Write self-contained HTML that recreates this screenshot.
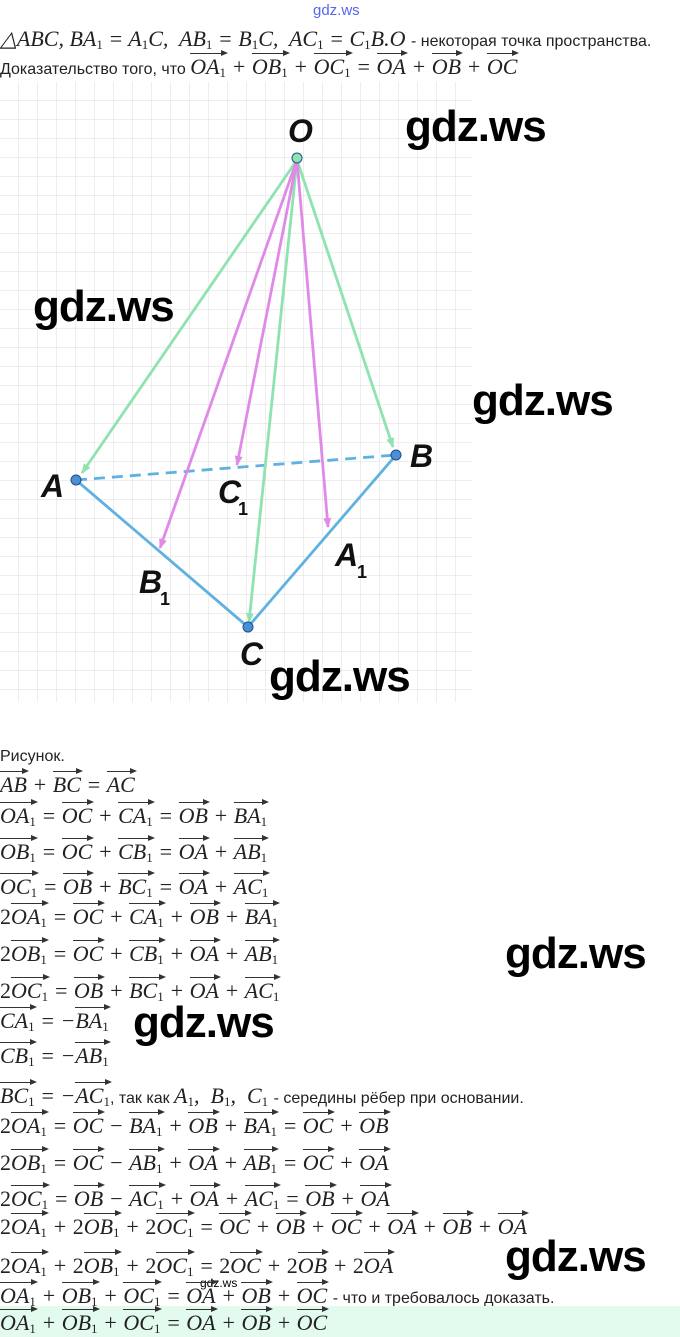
<!DOCTYPE html>
<html><head><meta charset="utf-8">
<style>
body{margin:0;width:680px;height:1337px;background:#fff;position:relative;overflow:hidden;font-family:"Liberation Sans",sans-serif;color:#222}
.l{position:absolute;left:0;white-space:nowrap;font-family:"Liberation Serif",serif;font-style:italic;font-size:22px;color:#222}
.t{font-family:"Liberation Sans",sans-serif;font-style:normal;font-size:16px}
.n{font-style:normal}
.v{display:inline-block;position:relative;line-height:1;padding-top:3px}
.v::before{content:"";position:absolute;left:0;right:1px;top:0;border-top:1.3px solid #333}
.v::after{content:"";position:absolute;right:-2px;top:-3px;border-top:3.5px solid transparent;border-bottom:3.5px solid transparent;border-left:7px solid #333}
sub{font-size:13px;font-style:normal;vertical-align:-3px}
.w{position:absolute;font-family:"Liberation Sans",sans-serif;font-weight:bold;font-size:44px;color:#000;letter-spacing:-1px}
</style></head><body>
<div style="position:absolute;left:313px;top:2px;font-size:15px;color:#5566ee">gdz.ws</div>
<div class="l" style="top:26px">△ABC, BA<sub>1</sub> = A<sub>1</sub>C,&nbsp; AB<sub>1</sub> = B<sub>1</sub>C,&nbsp; AC<sub>1</sub> = C<sub>1</sub>B.O <span class="t">- некоторая точка пространства.</span></div>
<div class="l" style="top:53px"><span class="t">Доказательство того, что </span><span class="v">OA<sub>1</sub></span> + <span class="v">OB<sub>1</sub></span> + <span class="v">OC<sub>1</sub></span> = <span class="v">OA</span> + <span class="v">OB</span> + <span class="v">OC</span></div>

<svg style="position:absolute;left:0;top:82px" width="475" height="620">
<defs>
<pattern id="g" width="19" height="19" patternUnits="userSpaceOnUse"><path d="M19 0V19H0" fill="none" stroke="#dcdcdc" stroke-width="1"/></pattern>
</defs>
<rect width="472" height="620" fill="url(#g)"/>
</svg>
<svg style="position:absolute;left:0;top:0" width="680" height="720">
<defs>
<marker id="mg" markerWidth="10" markerHeight="10" refX="9" refY="5" orient="auto" markerUnits="userSpaceOnUse"><path d="M0 1L10 5L0 9z" fill="#8ee3b0"/></marker>
<marker id="mp" markerWidth="10" markerHeight="10" refX="9" refY="5" orient="auto" markerUnits="userSpaceOnUse"><path d="M0 1L10 5L0 9z" fill="#e08ae8"/></marker>
</defs>
<g stroke-width="2.8" fill="none">
<line x1="76" y1="480" x2="396" y2="455" stroke="#5fb2e0" stroke-dasharray="11,7"/>
<line x1="76" y1="480" x2="248" y2="627" stroke="#5fb2e0"/>
<line x1="396" y1="455" x2="248" y2="627" stroke="#5fb2e0"/>
<line x1="297" y1="160" x2="82" y2="473" stroke="#8ee3b0" marker-end="url(#mg)"/>
<line x1="297" y1="160" x2="393" y2="447" stroke="#8ee3b0" marker-end="url(#mg)"/>
<line x1="297" y1="160" x2="249" y2="622" stroke="#8ee3b0" marker-end="url(#mg)"/>
<line x1="297" y1="160" x2="160" y2="548" stroke="#e08ae8" marker-end="url(#mp)"/>
<line x1="297" y1="160" x2="237" y2="465" stroke="#e08ae8" marker-end="url(#mp)"/>
<line x1="297" y1="160" x2="328" y2="527" stroke="#e08ae8" marker-end="url(#mp)"/>
</g>
<g stroke="#1f4f8a" stroke-width="1">
<circle cx="297" cy="158" r="5" fill="#8ee3b0"/>
<circle cx="76" cy="480" r="5" fill="#4a90d9"/>
<circle cx="396" cy="455" r="5" fill="#4a90d9"/>
<circle cx="248" cy="627" r="5" fill="#4a90d9"/>
</g>
<g font-family="Liberation Sans Narrow, Liberation Sans, sans-serif" font-style="italic" font-weight="bold" font-size="32" fill="#111">
<text x="288" y="142">O</text>
<text x="41" y="497">A</text>
<text x="410" y="467">B</text>
<text x="218" y="503">C</text><text x="238" y="515" font-size="18" font-style="normal">1</text>
<text x="139" y="593">B</text><text x="160" y="605" font-size="18" font-style="normal">1</text>
<text x="335" y="566">A</text><text x="357" y="578" font-size="18" font-style="normal">1</text>
<text x="240" y="665">C</text>
</g>
</svg>

<div class="w" style="left:405px;top:102px">gdz.ws</div>
<div class="w" style="left:33px;top:282px">gdz.ws</div>
<div class="w" style="left:472px;top:376px">gdz.ws</div>
<div class="w" style="left:269px;top:652px">gdz.ws</div>
<div class="w" style="left:505px;top:929px">gdz.ws</div>
<div class="w" style="left:133px;top:998px">gdz.ws</div>
<div class="w" style="left:505px;top:1232px">gdz.ws</div>

<div class="l t" style="top:748px">Рисунок.</div>
<div class="l" style="top:771px"><span class="v">AB</span> + <span class="v">BC</span> = <span class="v">AC</span></div>
<div class="l" style="top:802px"><span class="v">OA<sub>1</sub></span> = <span class="v">OC</span> + <span class="v">CA<sub>1</sub></span> = <span class="v">OB</span> + <span class="v">BA<sub>1</sub></span></div>
<div class="l" style="top:838px"><span class="v">OB<sub>1</sub></span> = <span class="v">OC</span> + <span class="v">CB<sub>1</sub></span> = <span class="v">OA</span> + <span class="v">AB<sub>1</sub></span></div>
<div class="l" style="top:873px"><span class="v">OC<sub>1</sub></span> = <span class="v">OB</span> + <span class="v">BC<sub>1</sub></span> = <span class="v">OA</span> + <span class="v">AC<sub>1</sub></span></div>
<div class="l" style="top:903px"><span class="n">2</span><span class="v">OA<sub>1</sub></span> = <span class="v">OC</span> + <span class="v">CA<sub>1</sub></span> + <span class="v">OB</span> + <span class="v">BA<sub>1</sub></span></div>
<div class="l" style="top:940px"><span class="n">2</span><span class="v">OB<sub>1</sub></span> = <span class="v">OC</span> + <span class="v">CB<sub>1</sub></span> + <span class="v">OA</span> + <span class="v">AB<sub>1</sub></span></div>
<div class="l" style="top:977px"><span class="n">2</span><span class="v">OC<sub>1</sub></span> = <span class="v">OB</span> + <span class="v">BC<sub>1</sub></span> + <span class="v">OA</span> + <span class="v">AC<sub>1</sub></span></div>
<div class="l" style="top:1007px"><span class="v">CA<sub>1</sub></span> = −<span class="v">BA<sub>1</sub></span></div>
<div class="l" style="top:1042px"><span class="v">CB<sub>1</sub></span> = −<span class="v">AB<sub>1</sub></span></div>
<div class="l" style="top:1082px"><span class="v">BC<sub>1</sub></span> = −<span class="v">AC<sub>1</sub></span><span class="t">, так как </span>A<sub>1</sub>,&nbsp; B<sub>1</sub>,&nbsp; C<sub>1</sub> <span class="t">- середины рёбер при основании.</span></div>
<div class="l" style="top:1112px"><span class="n">2</span><span class="v">OA<sub>1</sub></span> = <span class="v">OC</span> − <span class="v">BA<sub>1</sub></span> + <span class="v">OB</span> + <span class="v">BA<sub>1</sub></span> = <span class="v">OC</span> + <span class="v">OB</span></div>
<div class="l" style="top:1149px"><span class="n">2</span><span class="v">OB<sub>1</sub></span> = <span class="v">OC</span> − <span class="v">AB<sub>1</sub></span> + <span class="v">OA</span> + <span class="v">AB<sub>1</sub></span> = <span class="v">OC</span> + <span class="v">OA</span></div>
<div class="l" style="top:1185px"><span class="n">2</span><span class="v">OC<sub>1</sub></span> = <span class="v">OB</span> − <span class="v">AC<sub>1</sub></span> + <span class="v">OA</span> + <span class="v">AC<sub>1</sub></span> = <span class="v">OB</span> + <span class="v">OA</span></div>
<div class="l" style="top:1213px"><span class="n">2</span><span class="v">OA<sub>1</sub></span> + <span class="n">2</span><span class="v">OB<sub>1</sub></span> + <span class="n">2</span><span class="v">OC<sub>1</sub></span> = <span class="v">OC</span> + <span class="v">OB</span> + <span class="v">OC</span> + <span class="v">OA</span> + <span class="v">OB</span> + <span class="v">OA</span></div>
<div class="l" style="top:1252px"><span class="n">2</span><span class="v">OA<sub>1</sub></span> + <span class="n">2</span><span class="v">OB<sub>1</sub></span> + <span class="n">2</span><span class="v">OC<sub>1</sub></span> = <span class="n">2</span><span class="v">OC</span> + <span class="n">2</span><span class="v">OB</span> + <span class="n">2</span><span class="v">OA</span></div>
<div style="position:absolute;left:200px;top:1276px;font-size:12px;color:#000">gdz.ws</div>
<div class="l" style="top:1282px"><span class="v">OA<sub>1</sub></span> + <span class="v">OB<sub>1</sub></span> + <span class="v">OC<sub>1</sub></span> = <span class="v">OA</span> + <span class="v">OB</span> + <span class="v">OC</span> <span class="t">- что и требовалось доказать.</span></div>
<div style="position:absolute;left:0;top:1306px;width:680px;height:31px;background:#e3fbee"></div>
<div class="l" style="top:1309px"><span class="v">OA<sub>1</sub></span> + <span class="v">OB<sub>1</sub></span> + <span class="v">OC<sub>1</sub></span> = <span class="v">OA</span> + <span class="v">OB</span> + <span class="v">OC</span></div>
</body></html>
